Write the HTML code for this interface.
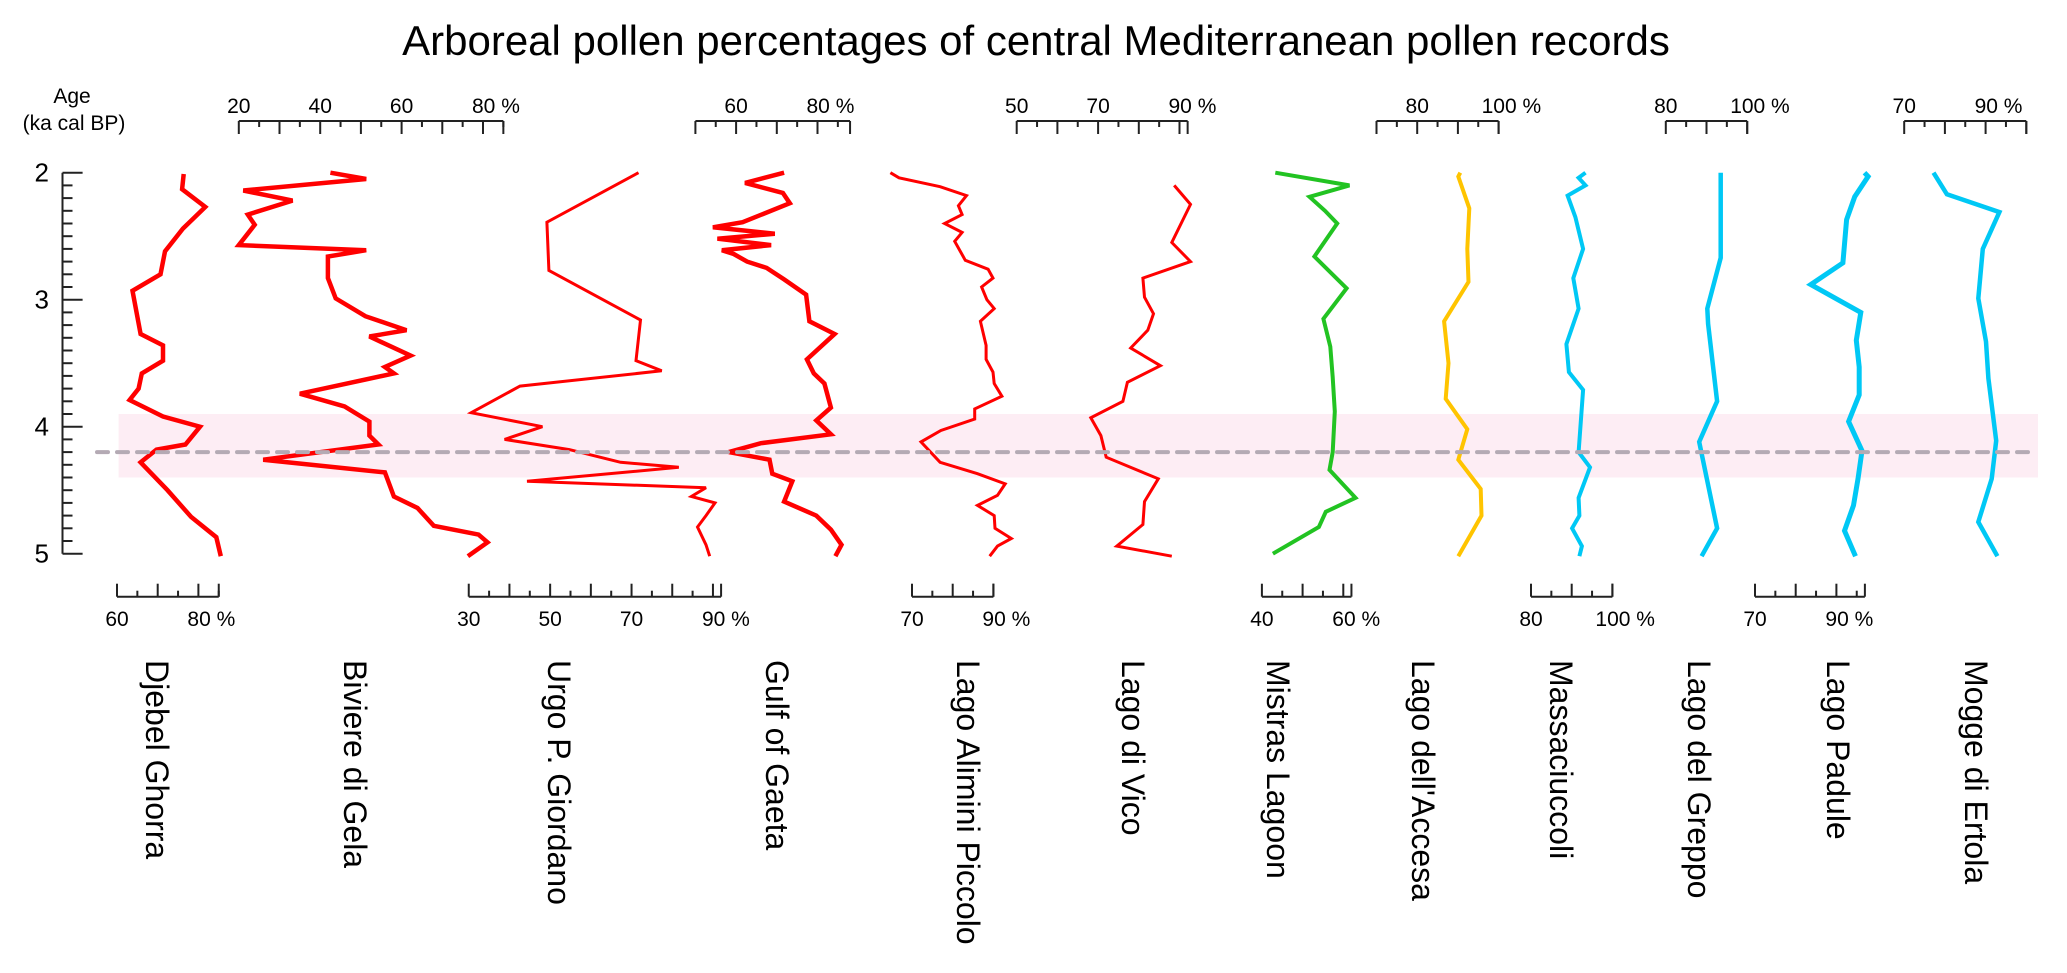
<!DOCTYPE html>
<html><head><meta charset="utf-8"><style>
html,body{margin:0;padding:0;background:#fff;}
svg{display:block;font-family:"Liberation Sans",Arial,sans-serif;}
</style></head><body>
<svg id="chart" width="2067" height="973" viewBox="0 0 2067 973" xmlns="http://www.w3.org/2000/svg">
<text x="1036" y="55" font-size="42" text-anchor="middle" fill="#000">Arboreal pollen percentages of central Mediterranean pollen records</text>
<g id="bg"></g><g id="axes"></g><g id="lines"></g><g id="labels"></g>
</svg>
<script>
// Age axis
const ageTicks = [2, 3, 4, 5];
const eventAge = 4.2, bandTop = 3.9, bandBottom = 4.4;

// Series data (age in ka cal BP, arboreal pollen %)
const djebelAges = [2.01,2.13,2.27,2.44,2.62,2.80,2.93,3.27,3.36,3.48,3.58,3.70,3.79,3.92,4.00,4.14,4.18,4.28,4.50,4.71,4.87,5.02];
const djebelVals = [76.4,76.0,81.7,76.2,71.8,70.7,63.8,65.8,71.3,71.3,66.1,65.3,63.1,71.3,80.4,76.8,69.7,65.8,72.4,78.2,84.4,85.5];
const bivAges = [2.00,2.05,2.14,2.22,2.33,2.41,2.57,2.61,2.66,2.83,2.99,3.13,3.24,3.29,3.44,3.53,3.58,3.74,3.84,3.96,4.07,4.14,4.26,4.36,4.55,4.64,4.78,4.85,4.91,5.02];
const bivVals = [42.5,51.3,21.1,33.2,22.2,23.9,20.0,51.3,41.9,41.9,43.8,51.1,61.2,52.1,62.2,55.9,58.1,35.0,46.0,52.1,52.1,54.3,26.0,55.9,58.1,63.9,67.9,78.9,81.1,76.3];
const urgoAges = [2.00,2.39,2.77,3.16,3.48,3.56,3.68,3.89,4.00,4.10,4.18,4.28,4.32,4.43,4.48,4.55,4.60,4.70,4.79,4.93,5.02];
const urgoVals = [71.7,49.2,49.7,72.2,71.1,77.4,42.6,30.6,48.1,38.8,54.7,67.3,81.6,44.3,88.3,84.7,90.5,88.3,86.2,88.3,89.2];
const gaetaAges = [2.00,2.08,2.16,2.24,2.39,2.43,2.48,2.52,2.57,2.61,2.64,2.70,2.75,2.84,2.96,3.17,3.27,3.47,3.58,3.66,3.85,3.95,4.06,4.13,4.20,4.26,4.37,4.43,4.59,4.70,4.81,4.93,5.02];
const gaetaVals = [71.8,62.2,71.5,73.2,61.6,54.3,69.5,55.4,68.6,56.5,59.4,62.7,67.5,71.8,77.2,78.0,84.2,77.4,79.1,81.7,83.3,79.7,83.3,66.1,58.2,68.2,68.9,73.8,71.8,79.7,83.3,85.9,84.4];
const alimAges = [2.00,2.04,2.11,2.18,2.26,2.33,2.40,2.47,2.54,2.69,2.76,2.83,2.90,3.00,3.07,3.17,3.36,3.47,3.57,3.66,3.76,3.86,3.94,4.03,4.12,4.28,4.37,4.45,4.54,4.62,4.70,4.80,4.88,4.94,5.02];
const alimVals = [64.7,66.8,76.9,83.4,81.4,82.3,78.0,82.3,80.5,83.1,88.7,89.9,87.1,88.4,90.2,86.8,88.2,88.2,89.9,90.2,92.1,85.4,85.4,77.1,72.2,76.9,86.1,92.9,91.0,86.1,90.2,90.4,94.4,91.0,89.1];
const vicoAges = [2.10,2.25,2.55,2.70,2.83,2.98,3.11,3.24,3.38,3.52,3.65,3.80,3.93,4.07,4.24,4.41,4.59,4.77,4.94,5.02];
const vicoVals = [88.7,92.7,88.1,92.7,81.0,81.4,83.6,82.2,78.0,85.3,77.2,76.1,68.2,70.7,72.0,84.8,81.4,81.0,74.6,88.1];
const mistAges = [2.00,2.10,2.19,2.30,2.40,2.66,2.91,3.15,3.37,3.61,3.88,4.20,4.34,4.56,4.67,4.79,5.00];
const mistVals = [43.3,61.5,51.7,55.5,58.5,52.9,60.8,55.1,56.8,57.4,57.9,57.4,56.6,63.0,55.7,54.0,42.7];
const accAges = [2.00,2.03,2.28,2.60,2.86,3.17,3.50,3.78,4.02,4.26,4.49,4.70,5.02];
const accVals = [90.6,90.1,92.8,92.3,92.6,86.6,87.7,87.0,92.3,90.1,95.6,95.8,90.1];
const massAges = [2.00,2.04,2.10,2.18,2.35,2.60,2.83,3.07,3.35,3.57,3.71,4.20,4.32,4.56,4.70,4.80,4.94,5.02];
const massVals = [93.4,91.7,93.4,89.0,90.9,92.8,90.4,91.7,88.7,89.3,92.8,91.7,94.5,91.7,91.9,90.1,92.5,91.9];
const grepAges = [2.00,2.67,3.07,3.19,3.80,4.12,4.80,5.02];
const grepVals = [93.5,93.5,90.2,90.4,92.6,88.2,92.6,88.8];
const padAges = [2.00,2.03,2.19,2.37,2.71,2.88,3.10,3.32,3.53,3.75,3.96,4.19,4.41,4.62,4.82,5.02];
const padVals = [96.9,97.8,94.5,92.5,91.6,83.7,96.0,94.9,95.6,95.6,93.0,96.3,95.3,94.2,92.0,94.7];
const mogAges = [2.00,2.17,2.31,2.60,2.99,3.33,3.62,4.11,4.41,4.75,5.02];
const mogVals = [77.2,80.5,93.4,89.3,88.2,90.1,90.7,92.6,91.5,88.2,92.9];

const NS = "http://www.w3.org/2000/svg";
const PXPCT = 4.07;
function yAge(a){ return 172.7 + (a-2)*127; }
function mk(tag, attrs, parent){ const e=document.createElementNS(NS,tag); for(const k in attrs) e.setAttribute(k,attrs[k]); parent.appendChild(e); return e; }

const bg=document.getElementById('bg'), axes=document.getElementById('axes'), lines=document.getElementById('lines'), labels=document.getElementById('labels');

const band = mk('rect',{x:118.6,y:yAge(bandTop),width:2038-118.6,height:yAge(bandBottom)-yAge(bandTop),fill:'#fdedf4'},bg);



const ag = mk('g',{},axes);


mk('line',{x1:62.5,y1:yAge(2),x2:62.5,y2:yAge(5),stroke:'#222','stroke-width':2},ag);
for(let i=0;i<=30;i++){ const a=2+i/10; const maj=(i%10===0);
  mk('line',{x1:62.5,y1:yAge(a),x2:maj?82.6:72.5,y2:yAge(a),stroke:'#222','stroke-width':2},ag); }
ageTicks.forEach(a=>{ const t=mk('text',{x:49,y:yAge(a)+9,'font-size':26,'text-anchor':'end'},ag); t.textContent=a;
  
   });
const at1=mk('text',{x:72,y:103,'font-size':21,'text-anchor':'middle'},ag); at1.textContent='Age';
const at2=mk('text',{x:74,y:130,'font-size':21,'text-anchor':'middle'},ag); at2.textContent='(ka cal BP)';



const panels = [
 {name:'djebel-ghorra',title:'Djebel Ghorra',ages:djebelAges,vals:djebelVals,pos:'bottom',x0:117,v0:60,vmax:85,lab:[60,80],color:'#ff0000',w:4.5,tx:146},
 {name:'biviere-di-gela',title:'Biviere di Gela',ages:bivAges,vals:bivVals,pos:'top',x0:238.8,v0:20,vmax:85,lab:[20,40,60,80],color:'#ff0000',w:4.5,tx:344},
 {name:'urgo-p-giordano',title:'Urgo P. Giordano',ages:urgoAges,vals:urgoVals,pos:'bottom',x0:468.75,v0:30,vmax:92,lab:[30,50,70,90],color:'#ff0000',w:3,tx:548},
 {name:'gulf-of-gaeta',title:'Gulf of Gaeta',ages:gaetaAges,vals:gaetaVals,pos:'top',x0:695.4,v0:50,vmax:88,lab:[60,80],color:'#ff0000',w:4.5,tx:766},
 {name:'lago-alimini-piccolo',title:'Lago Alimini Piccolo',ages:alimAges,vals:alimVals,pos:'bottom',x0:912,v0:70,vmax:90,lab:[70,90],color:'#ff0000',w:3,tx:957},
 {name:'lago-di-vico',title:'Lago di Vico',ages:vicoAges,vals:vicoVals,pos:'top',x0:1016.7,v0:50,vmax:92,lab:[50,70,90],color:'#ff0000',w:3,tx:1122},
 {name:'mistras-lagoon',title:'Mistras Lagoon',ages:mistAges,vals:mistVals,pos:'bottom',x0:1261.9,v0:40,vmax:62,lab:[40,60],color:'#22c322',w:4,tx:1267},
 {name:'lago-dell-accesa',title:"Lago dell'Accesa",ages:accAges,vals:accVals,pos:'top',x0:1376.5,v0:70,vmax:100,lab:[80,100],color:'#ffc400',w:4,tx:1412},
 {name:'massaciuccoli',title:'Massaciuccoli',ages:massAges,vals:massVals,pos:'bottom',x0:1531,v0:80,vmax:100,lab:[80,100],color:'#00c8f5',w:4,tx:1550},
 {name:'lago-del-greppo',title:'Lago del Greppo',ages:grepAges,vals:grepVals,pos:'top',x0:1665.8,v0:80,vmax:100,lab:[80,100],color:'#00c8f5',w:4.5,tx:1688},
 {name:'lago-padule',title:'Lago Padule',ages:padAges,vals:padVals,pos:'bottom',x0:1755,v0:70,vmax:97,lab:[70,90],color:'#00c8f5',w:5,tx:1827},
 {name:'mogge-di-ertola',title:'Mogge di Ertola',ages:mogAges,vals:mogVals,pos:'top',x0:1904.2,v0:70,vmax:100,lab:[70,90],color:'#00c8f5',w:4.5,tx:1965}
];

panels.forEach(p=>{
  const xs = v => p.x0 + (v - p.v0)*PXPCT;
  const g = mk('g',{},axes);
  
  
  const top = p.pos==='top';
  const ay = top?121:596.7, dir = top?1:-1;
  mk('line',{x1:xs(p.v0),y1:ay,x2:xs(p.vmax),y2:ay,stroke:'#222','stroke-width':2},g);
  for(let v=p.v0; v<=p.vmax+0.01; v+=5){
    const maj = (v%10===0);
    mk('line',{x1:xs(v),y1:ay,x2:xs(v),y2:ay+dir*(maj?13:6),stroke:'#222','stroke-width':2},g);
  }
  mk('line',{x1:xs(p.vmax),y1:ay,x2:xs(p.vmax),y2:ay+dir*13,stroke:'#222','stroke-width':2},g);
  p.lab.forEach((v,i)=>{
    const last = i===p.lab.length-1;
    const t = mk('text',{x:xs(v)-(last?(v>=100?17:11):0),y:top?113:626,'font-size':21,'text-anchor':last?'start':'middle'},g);
    t.textContent = last ? v+' %' : String(v);
    
    
  });
  const pts = p.ages.map((a,i)=>xs(p.vals[i]).toFixed(1)+','+yAge(a).toFixed(1)).join(' ');
  const pl = mk('polyline',{points:pts,fill:'none',stroke:p.color,'stroke-width':p.w,'stroke-linejoin':'miter','stroke-miterlimit':3},lines);
  
  
  const tl = mk('text',{x:p.tx,y:660,'font-size':32,transform:'rotate(90 '+p.tx+' 660)'},labels);
  tl.textContent = p.title;
  
  
});

const dl = mk('line',{x1:97,y1:yAge(eventAge),x2:2028,y2:yAge(eventAge),stroke:'#b4aab4','stroke-width':4,'stroke-dasharray':'11 9','stroke-linecap':'round'},lines);


</script>
</body></html>
